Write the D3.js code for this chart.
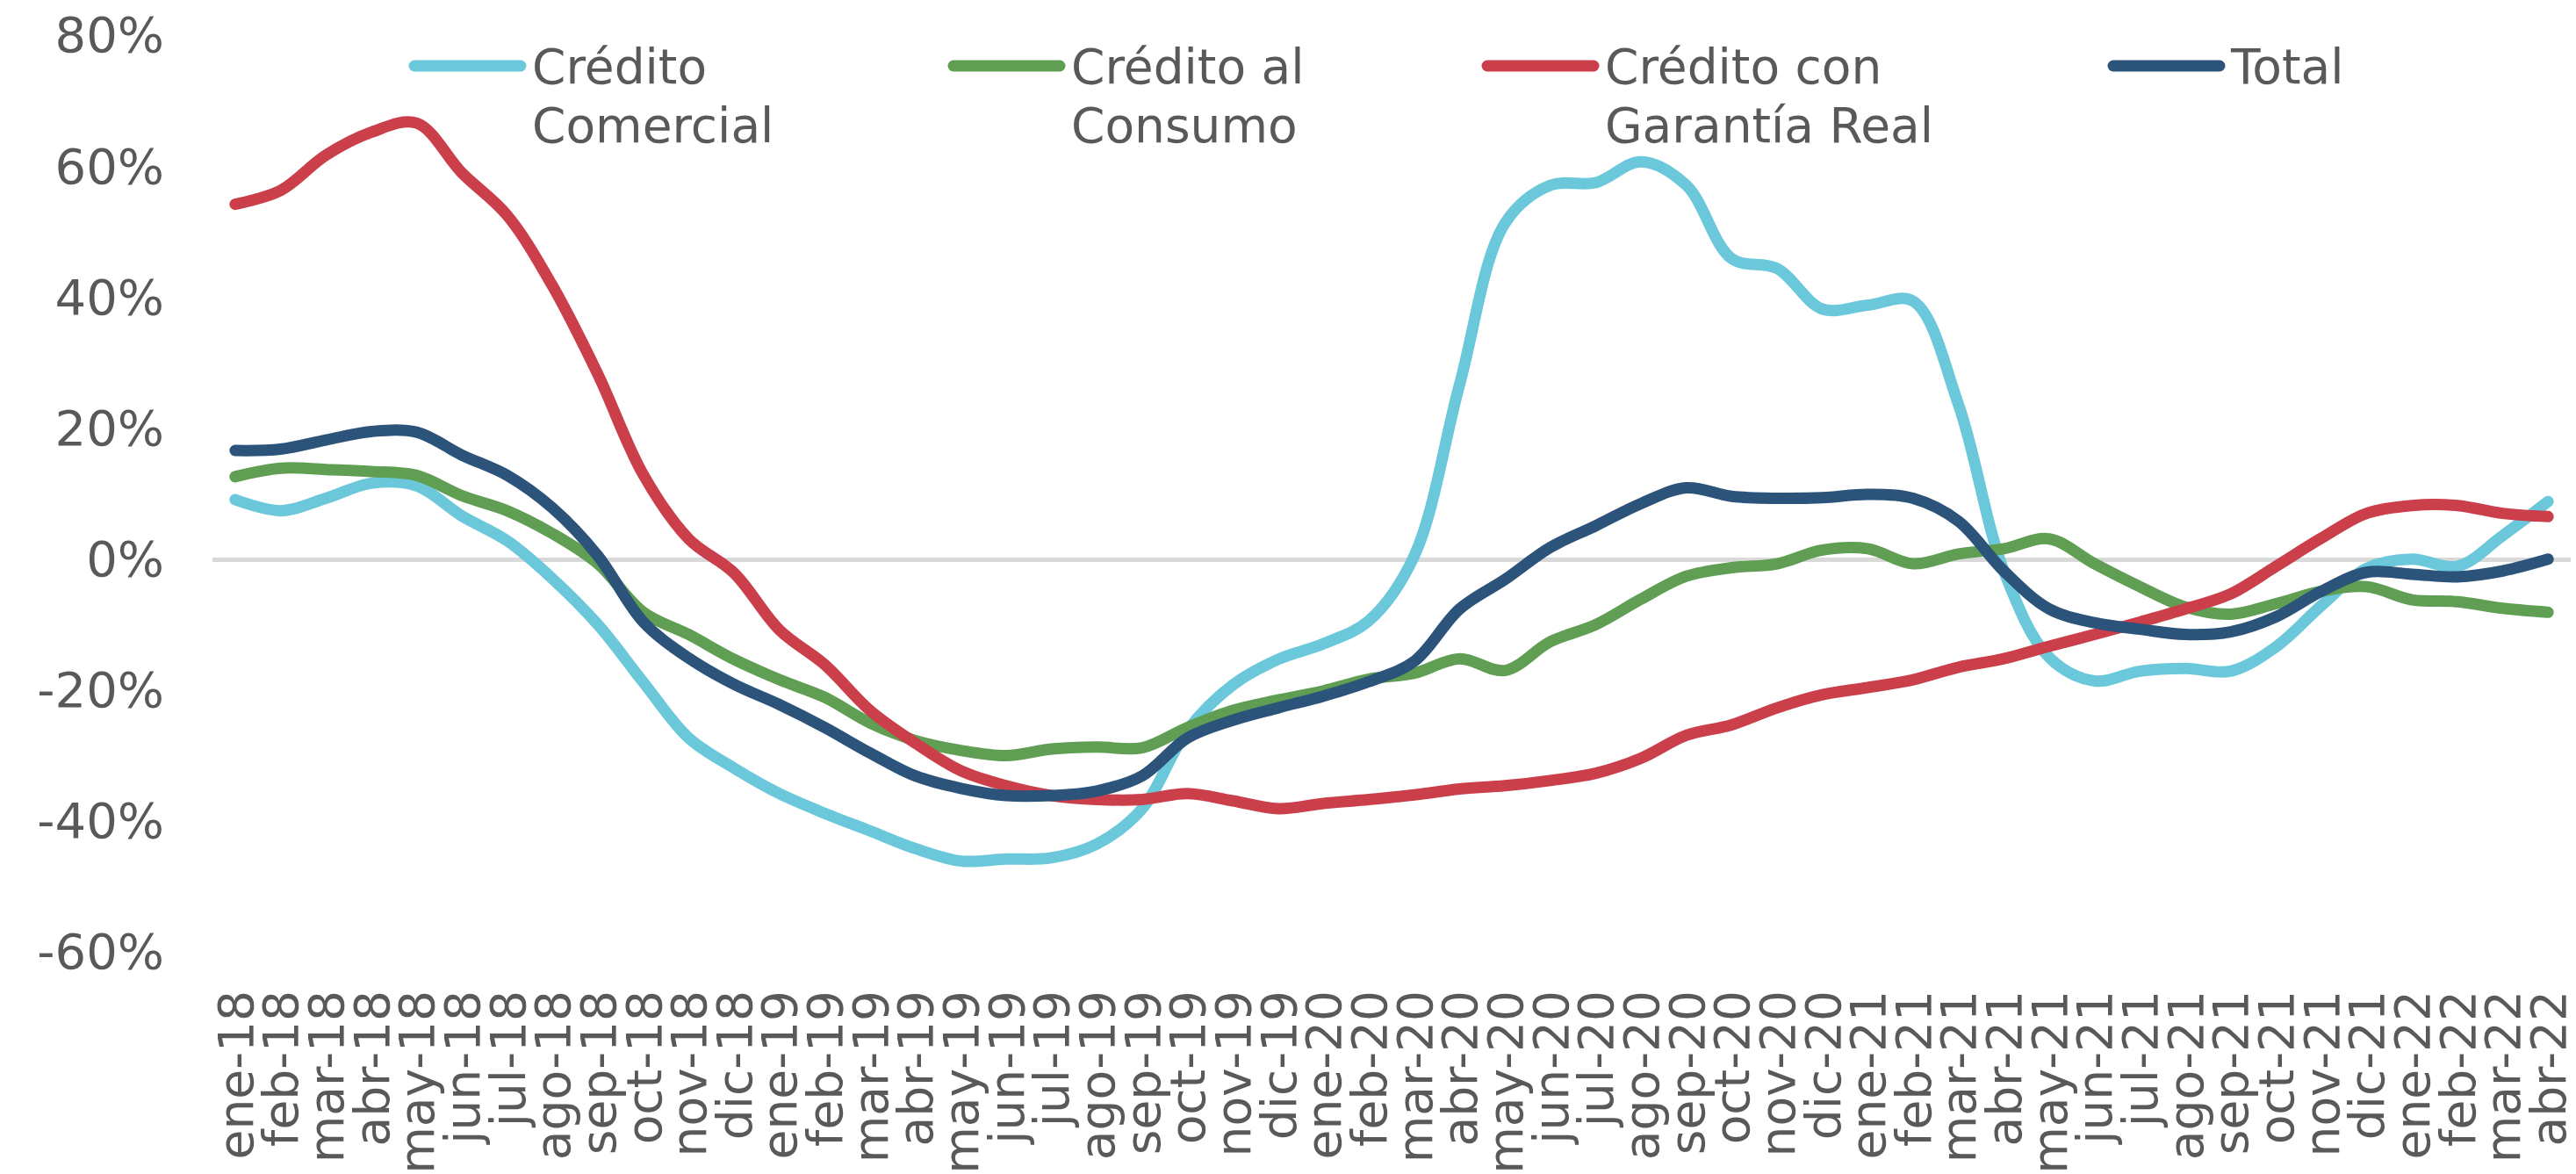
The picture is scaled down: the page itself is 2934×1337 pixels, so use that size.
<!DOCTYPE html>
<html>
<head>
<meta charset="utf-8">
<script src="https://cdn.jsdelivr.net/npm/d3@7"></script>
<style>
  html, body { margin: 0; padding: 0; background: #fff; }
  text { font-family: 'DejaVu Sans', Verdana, sans-serif; fill: #595959; }
</style>
</head>
<body>
<div id="chart"></div>
<script>
const months = [
  'ene-18', 'feb-18', 'mar-18', 'abr-18', 'may-18', 'jun-18', 'jul-18', 'ago-18', 'sep-18', 'oct-18', 'nov-18', 'dic-18',
  'ene-19', 'feb-19', 'mar-19', 'abr-19', 'may-19', 'jun-19', 'jul-19', 'ago-19', 'sep-19', 'oct-19', 'nov-19', 'dic-19',
  'ene-20', 'feb-20', 'mar-20', 'abr-20', 'may-20', 'jun-20', 'jul-20', 'ago-20', 'sep-20', 'oct-20', 'nov-20', 'dic-20',
  'ene-21', 'feb-21', 'mar-21', 'abr-21', 'may-21', 'jun-21', 'jul-21', 'ago-21', 'sep-21', 'oct-21', 'nov-21', 'dic-21',
  'ene-22', 'feb-22', 'mar-22', 'abr-22'
]

// variación anual (%)
const comercial = [
  9.2, 7.5, 9.4, 11.7, 11.3, 6.7, 2.9, -2.9, -9.9, -18.7, -27.2, -31.8,
  -35.7, -38.7, -41.4, -44.1, -46.0, -45.7, -45.5, -43.4, -38.0, -26.0, -19.1, -15.2,
  -12.8, -9.3, 0.6, 26.8, 51.4, 57.2, 57.6, 60.8, 57.2, 46.0, 44.5, 38.3,
  38.9, 39.5, 23.7, -1.7, -14.9, -18.5, -17.0, -16.6, -17.0, -13.3, -7.0, -1.3,
  0.1, -1.0, 3.7, 8.9
]
const consumo = [
  12.7, 14.0, 13.8, 13.5, 12.9, 9.8, 7.5, 4.0, -0.6, -8.0, -11.4, -15.2,
  -18.3, -21.0, -24.9, -27.6, -29.1, -29.9, -28.9, -28.6, -28.7, -25.6, -23.0, -21.4,
  -20.0, -18.2, -17.3, -15.1, -16.9, -12.5, -9.9, -6.0, -2.5, -1.2, -0.6, 1.5,
  1.7, -0.6, 0.9, 1.7, 3.2, -0.6, -4.1, -7.2, -8.3, -6.7, -4.8, -4.1,
  -6.1, -6.4, -7.4, -8.0
]
const garantia = [
  54.3, 56.4, 61.8, 65.3, 66.7, 59.1, 52.6, 41.8, 28.3, 13.0, 3.2, -2.0,
  -10.7, -16.0, -23.0, -28.0, -32.2, -34.5, -36.0, -36.6, -36.6, -35.7, -36.8, -38.0,
  -37.2, -36.6, -35.9, -35.0, -34.5, -33.7, -32.6, -30.3, -26.8, -25.2, -22.6, -20.6,
  -19.5, -18.3, -16.4, -15.1, -13.2, -11.4, -9.5, -7.5, -5.2, -1.0, 3.3, 7.1,
  8.3, 8.3, 7.1, 6.6
]
const total = [
  16.7, 16.9, 18.3, 19.6, 19.5, 16.0, 12.9, 7.9, 0.6, -9.5, -15.0, -19.0,
  -22.1, -25.6, -29.5, -33.0, -34.9, -36.0, -36.0, -35.3, -33.0, -27.2, -24.5, -22.6,
  -20.8, -18.6, -15.5, -7.5, -3.0, 1.9, 5.2, 8.6, 11.0, 9.7, 9.4, 9.5,
  10.0, 9.4, 5.9, -1.7, -7.5, -9.6, -10.6, -11.4, -11.0, -8.7, -4.8, -1.9,
  -2.2, -2.6, -1.7, 0.1
]

const yTicks = [-60, -40, -20, 0, 20, 40, 60, 80]

const seriesNames = [['Crédito', 'Comercial'], ['Crédito al', 'Consumo'], ['Crédito con', 'Garantía Real'], ['Total']]
const seriesColors = ['#6bc8db', '#5f9e53', '#cb3f4a', '#2c5379']
const seriesValues = [comercial, consumo, garantia, total]

const width = 2934
const height = 1337

const svg = d3.select('#chart')
  .append('svg')
  .attr('width', width)
  .attr('height', height)

// escalas
const x = d3.scaleBand()
  .domain(months)
  .range([242, 2928])
  .padding(0)

const y = d3.scaleLinear()
  .domain([-60, 80])
  .range([1085, 41])

const cx = d => x(d) + x.bandwidth() / 2

// eje Y (solo etiquetas)
const yAxis = d3.axisLeft(y)
  .tickValues(yTicks)
  .tickFormat(d => d + '%')
  .tickSize(0)
  .tickPadding(0)

svg.append('g')
  .attr('transform', 'translate(187,0)')
  .call(yAxis)
  .call(g => g.select('.domain').remove())
  .call(g => g.selectAll('text')
    .attr('font-size', 56)
    .attr('font-family', null)
    .attr('fill', null))

// línea del cero
svg.append('line')
  .attr('x1', x.range()[0])
  .attr('x2', x.range()[1])
  .attr('y1', y(0))
  .attr('y2', y(0))
  .attr('stroke', '#d9d9d9')
  .attr('stroke-width', 5)

// eje X con etiquetas verticales
const xAxis = d3.axisBottom(x).tickSize(0).tickPadding(0)

svg.append('g')
  .attr('transform', 'translate(0,1128)')
  .call(xAxis)
  .call(g => g.select('.domain').remove())
  .call(g => g.selectAll('text')
    .attr('font-size', 55)
    .attr('font-family', null)
    .attr('fill', null)
    .attr('transform', 'rotate(-90)')
    .attr('text-anchor', 'end')
    .attr('x', 0)
    .attr('y', 0)
    .attr('dy', '0.36em'))

// series
const line = d3.line()
  .x((d, i) => cx(months[i]))
  .y(d => y(d))
  .curve(d3.curveCatmullRom.alpha(0.5))

svg.selectAll('.serie')
  .data(seriesValues)
  .enter()
  .append('path')
  .attr('class', 'serie')
  .attr('d', d => line(d))
  .attr('fill', 'none')
  .attr('stroke', (d, i) => seriesColors[i])
  .attr('stroke-width', 13)
  .attr('stroke-linecap', 'round')
  .attr('stroke-linejoin', 'round')

// leyenda
const legendX = [466, 1080, 1688, 2401]

const legend = svg.selectAll('.legend')
  .data(seriesNames)
  .enter()
  .append('g')
  .attr('class', 'legend')
  .attr('transform', (d, i) => `translate(${legendX[i]},0)`)

legend.append('line')
  .attr('x1', 6)
  .attr('x2', 127)
  .attr('y1', 75)
  .attr('y2', 75)
  .attr('stroke', (d, i) => seriesColors[i])
  .attr('stroke-width', 13)
  .attr('stroke-linecap', 'round')

legend.append('text')
  .attr('x', 140)
  .attr('y', 95)
  .attr('font-size', 55)
  .selectAll('tspan')
  .data(d => d)
  .enter()
  .append('tspan')
  .attr('x', 140)
  .attr('dy', (d, i) => i === 0 ? 0 : 67)
  .text(d => d)
</script>
</body>
</html>
